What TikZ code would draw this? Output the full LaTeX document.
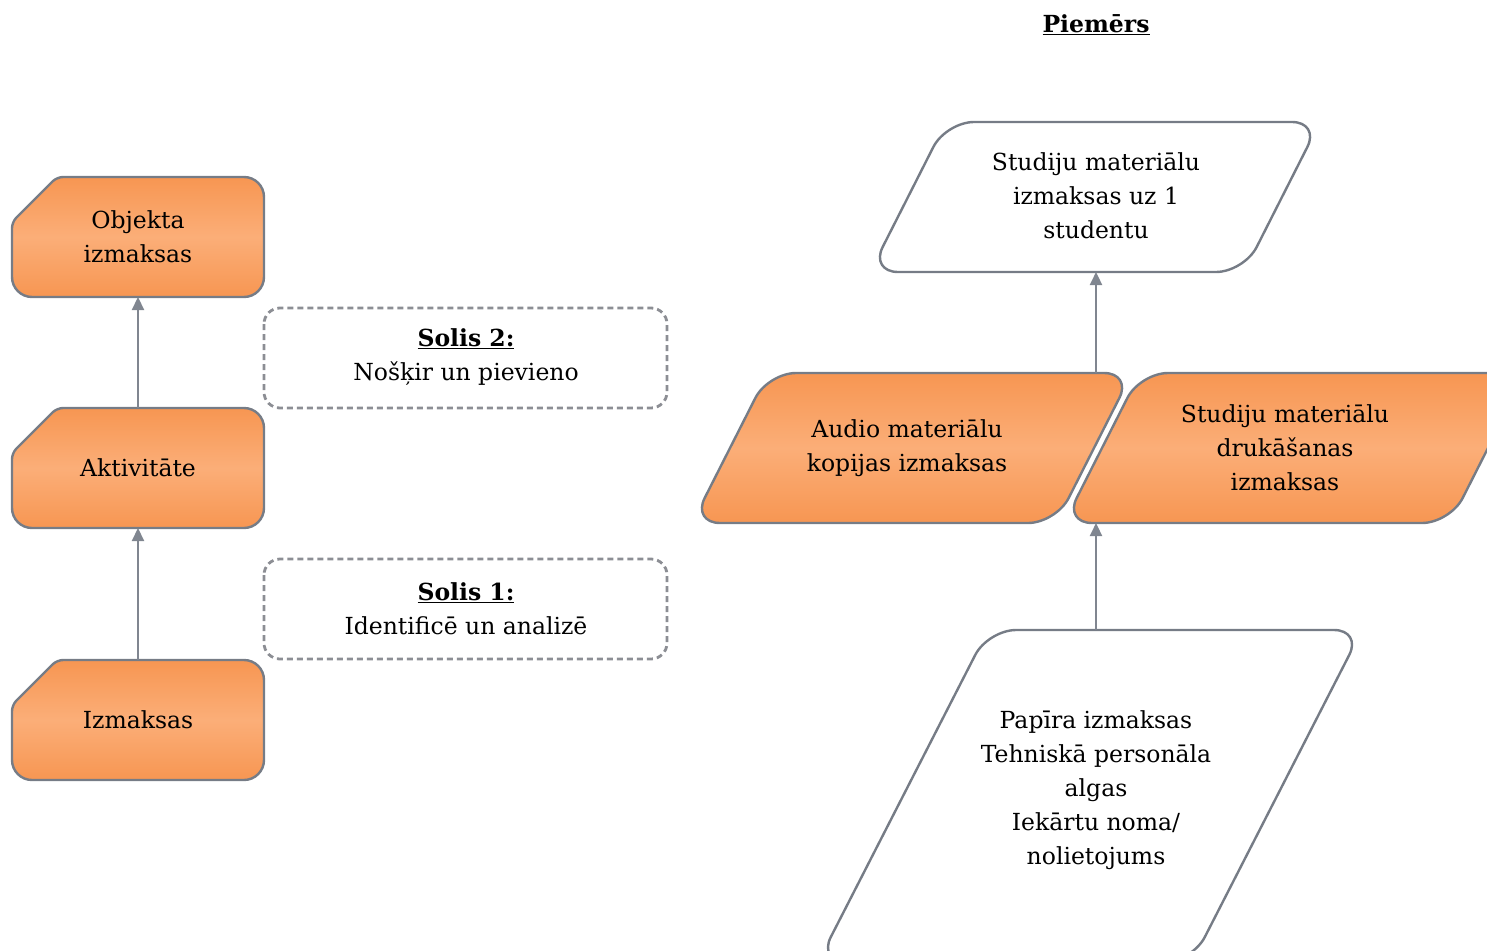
\documentclass[tikz,border=0pt]{standalone}
\usepackage{fontspec}
\setmainfont{DejaVu Serif}
\usetikzlibrary{arrows.meta}
\definecolor{bordergray}{RGB}{118,124,134}
\definecolor{arrowgray}{RGB}{128,134,144}
\definecolor{dashgray}{RGB}{140,142,148}
\definecolor{orA}{RGB}{247,150,82}
\definecolor{orB}{RGB}{251,174,120}
\tikzset{
  orbox/.style={top color=orA, bottom color=orA, middle color=orB, draw=bordergray, line width=2.4pt},
  whitebox/.style={fill=white, draw=bordergray, line width=2.4pt},
  dashbox/.style={draw=dashgray, line width=2.8pt, dash pattern=on 6pt off 4pt, rounded corners=16pt},
  lbl/.style={align=center, font=\fontsize{23.5}{34}\selectfont, inner sep=0pt},
  conn/.style={draw=arrowgray, line width=2.2pt, -{Triangle[width=12pt,length=13pt]}},
}
\begin{document}
\begin{tikzpicture}[x=1pt,y=-1pt]
\useasboundingbox (0,0) rectangle (1487,950);
\clip (0,0) rectangle (1487,950);
% left snipped boxes
\foreach \yy in {177,408,660}{
  \path[orbox] (12,\yy+80) [rounded corners=6pt] -- (12,\yy+45) -- (57,\yy) [rounded corners=20pt] -- (264,\yy) -- (264,\yy+120) -- (12,\yy+120) -- cycle;
}
\node[lbl] (obj) at (138,237) {Objekta\\izmaksas};
\node[lbl] (akt) at (138,468) {Aktivitāte};
\node[lbl] (izm) at (138,720) {Izmaksas};
\coordinate (objB) at (138,297);
\coordinate (aktT) at (138,408);
\coordinate (aktB) at (138,528);
\coordinate (izmT) at (138,660);
\draw[conn] (aktT) -- (objB);
\draw[conn] (izmT) -- (aktB);
% dashed boxes
\draw[dashbox] (264,308) rectangle (667,408);
\draw[dashbox] (264,559) rectangle (667,659);
\node[lbl] (s2) at (466,357) {\textbf{\underline{Solis 2:}}\\Nošķir un pievieno};
\node[lbl] (s1) at (466,609) {\textbf{\underline{Solis 1:}}\\Identificē un analizē};
% title
\node[lbl] (title) at (1096,25) {\textbf{\underline{Piemērs}}};
% top white parallelogram
\path[whitebox, rounded corners=28pt] (1100,122) -- (1320,122) -- (1244,272) -- (870,272) -- (946,122) -- cycle;
\node[lbl] (top) at (1096,196) {Studiju materiālu\\izmaksas uz 1\\studentu};
% middle orange parallelograms
\path[orbox, rounded corners=28pt] (900,373) -- (1132,373) -- (1056,523) -- (692,523) -- (768,373) -- cycle;
\node[lbl] (audio) at (907,448) {Audio materiālu\\kopijas izmaksas};
\path[orbox, rounded corners=28pt] (1300,373) -- (1526,373) -- (1450,523) -- (1064,523) -- (1140,373) -- cycle;
\node[lbl] (druk) at (1285,448) {Studiju materiālu\\drukāšanas\\izmaksas};
% bottom parallelogram
\path[whitebox, rounded corners=28pt] (1100,630) -- (1362,630) -- (1192,962) -- (818,962) -- (988,630) -- cycle;
\node[lbl] (bot) at (1096,790) {Papīra izmaksas\\Tehniskā personāla\\algas\\Iekārtu noma/\\nolietojums};
\coordinate (topB) at (1096,272);
\coordinate (midT) at (1096,373);
\coordinate (midB) at (1096,523);
\coordinate (botT) at (1096,630);
\draw[conn] (midT) -- (topB);
\draw[conn] (botT) -- (midB);
\end{tikzpicture}
\end{document}
